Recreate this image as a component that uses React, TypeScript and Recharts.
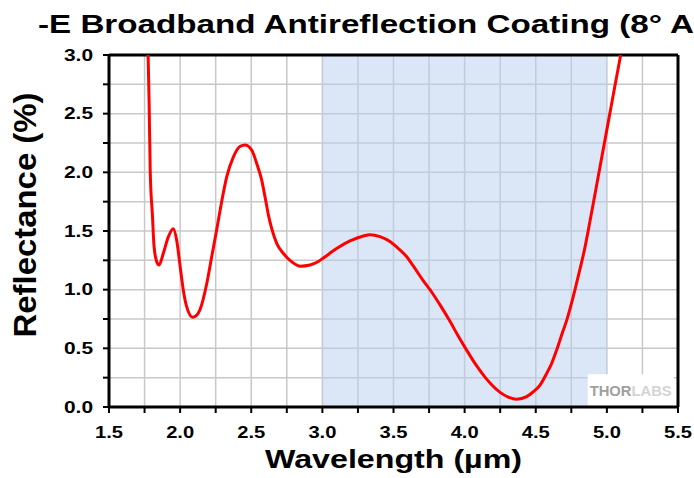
import React from "react";
import {
  LineChart,
  Line,
  XAxis,
  YAxis,
  CartesianGrid,
  ReferenceArea,
  ReferenceLine,
  Label,
} from "recharts";

const TITLE = "-E Broadband Antireflection Coating (8° A";
const X_LABEL = "Wavelength (µm)";
const Y_LABEL = "Reflectance (%)";

// wavelength in µm, reflectance in %
const wavelength = [
  1.775, 1.782, 1.79, 1.806, 1.816, 1.835, 1.852, 1.882, 1.917, 1.952, 1.976,
  2.0, 2.022, 2.046, 2.088, 2.11, 2.14, 2.187, 2.222, 2.257, 2.292, 2.327,
  2.374, 2.42, 2.456, 2.503, 2.538, 2.573, 2.597, 2.62, 2.644, 2.679, 2.725,
  2.772, 2.843, 2.913, 2.971, 3.007, 3.1, 3.194, 3.288, 3.335, 3.405, 3.475,
  3.52, 3.593, 3.64, 3.71, 3.768, 3.827, 3.897, 3.955, 4.014, 4.085, 4.143,
  4.19, 4.249, 4.307, 4.366, 4.436, 4.483, 4.53, 4.577, 4.612, 4.647, 4.682,
  4.718, 4.776, 4.81, 4.846, 4.87, 4.928, 4.975, 5.01, 5.057, 5.097,
];
const reflectance = [
  3.0, 2.6, 2.0, 1.62, 1.38, 1.24, 1.21, 1.31, 1.45, 1.52, 1.42,
  1.2, 1.0, 0.855, 0.765, 0.775, 0.83, 1.05, 1.28, 1.51, 1.75, 1.96,
  2.13, 2.22, 2.233, 2.19, 2.077, 1.935, 1.79, 1.64, 1.52, 1.395, 1.31,
  1.25, 1.2, 1.21, 1.24, 1.27, 1.35, 1.415, 1.458, 1.468, 1.452, 1.41,
  1.366, 1.28, 1.2, 1.075, 0.98, 0.87, 0.73, 0.605, 0.485, 0.35, 0.255,
  0.19, 0.125, 0.085, 0.066, 0.088, 0.13, 0.187, 0.287, 0.372, 0.486, 0.614,
  0.74, 1.0, 1.17, 1.36, 1.51, 1.89, 2.2, 2.43, 2.74, 3.0,
];

const xTicks = [
  1.5, 1.75, 2.0, 2.25, 2.5, 2.75, 3.0, 3.25, 3.5, 3.75, 4.0, 4.25, 4.5, 4.75,
  5.0, 5.25, 5.5,
];
const yTicks = [
  0, 0.25, 0.5, 0.75, 1.0, 1.25, 1.5, 1.75, 2.0, 2.25, 2.5, 2.75, 3.0,
];

// shaded design band
const bandStart = 3.0;
const bandEnd = 5.0;

// logo box
const logoX = [4.865, 5.47];
const logoY = [0, 0.28];

const data = wavelength.map((w, i) => ({ w, r: reflectance[i] }));

const FONT = "'Liberation Sans', Arial, Helvetica, sans-serif";

const isMajor = (v: number) => Math.abs(v * 2 - Math.round(v * 2)) < 1e-6;

function XTick(props: any) {
  const { x, y, payload } = props;
  if (!isMajor(payload.value)) return null;
  return (
    <text
      x={x}
      y={y}
      dy="0.71em"
      textAnchor="middle"
      fontSize={16}
      fontWeight="bold"
      fontFamily={FONT}
      fill="#000"
      textLength={28}
      lengthAdjust="spacingAndGlyphs"
    >
      {payload.value.toFixed(1)}
    </text>
  );
}

function YTick(props: any) {
  const { x, y, payload } = props;
  if (!isMajor(payload.value)) return null;
  return (
    <text
      x={x}
      y={y}
      dy="0.36em"
      textAnchor="end"
      fontSize={16}
      fontWeight="bold"
      fontFamily={FONT}
      fill="#000"
      textLength={29}
      lengthAdjust="spacingAndGlyphs"
    >
      {payload.value.toFixed(1)}
    </text>
  );
}

export default function App() {
  return (
    <div
      style={{
        position: "absolute",
        left: 0,
        top: 0,
        width: 694,
        height: 478,
        background: "#fff",
        overflow: "hidden",
      }}
    >
      <LineChart
        width={694}
        height={478}
        data={data}
        margin={{ top: 55, right: 16, bottom: 0, left: 0 }}
      >
        <CartesianGrid stroke="#c8c8c8" strokeWidth={1.5} />
        <ReferenceArea
          x1={bandStart}
          x2={bandEnd}
          y1={0}
          y2={3}
          fill="#b8cdf0"
          fillOpacity={0.5}
          stroke="none"
        />
        <ReferenceArea
          x1={logoX[0]}
          x2={logoX[1]}
          y1={logoY[0]}
          y2={logoY[1]}
          fill="#fff"
          fillOpacity={1}
          stroke="none"
          label={(p: any) => {
            const vb = p.viewBox;
            return (
              <text
                x={vb.x + vb.width / 2}
                y={vb.y + vb.height / 2}
                dy="0.36em"
                textAnchor="middle"
                fontSize={14}
                fontWeight="bold"
                fontFamily={FONT}
                textLength={82}
                lengthAdjust="spacingAndGlyphs"
              >
                <tspan fill="#a0a0a0">THOR</tspan>
                <tspan fill="#d4d4d4">LABS</tspan>
              </text>
            );
          }}
        />
        <XAxis
          type="number"
          dataKey="w"
          domain={[1.5, 5.5]}
          ticks={xTicks}
          interval={0}
          height={71}
          tick={<XTick />}
          tickSize={6}
          tickMargin={14}
          axisLine={{ stroke: "#000", strokeWidth: 3 }}
          tickLine={{ stroke: "#000", strokeWidth: 2 }}
          allowDataOverflow
        >
          <Label
            content={(p: any) => {
              const vb = p.viewBox;
              return (
                <text
                  x={vb.x + vb.width / 2}
                  y={vb.y + 61}
                  textAnchor="middle"
                  fontSize={26}
                  fontWeight="bold"
                  fontFamily={FONT}
                  fill="#000"
                  textLength={257}
                  lengthAdjust="spacingAndGlyphs"
                >
                  {X_LABEL}
                </text>
              );
            }}
          />
        </XAxis>
        <YAxis
          type="number"
          domain={[0, 3]}
          ticks={yTicks}
          interval={0}
          width={109}
          tick={<YTick />}
          tickSize={6}
          tickMargin={10}
          axisLine={{ stroke: "#000", strokeWidth: 3 }}
          tickLine={{ stroke: "#000", strokeWidth: 2 }}
          allowDataOverflow
        >
          <Label
            content={(p: any) => {
              const vb = p.viewBox;
              const cx = vb.x + 36;
              const cy = vb.y + vb.height / 2 - 16;
              return (
                <text
                  x={cx}
                  y={cy}
                  transform={`rotate(-90 ${cx} ${cy})`}
                  textAnchor="middle"
                  fontSize={31}
                  fontWeight="bold"
                  fontFamily={FONT}
                  fill="#000"
                  textLength={245}
                  lengthAdjust="spacingAndGlyphs"
                >
                  {Y_LABEL}
                </text>
              );
            }}
          />
        </YAxis>
        <ReferenceLine y={3} stroke="#000" strokeWidth={3} />
        <ReferenceLine x={5.5} stroke="#000" strokeWidth={3} />
        <Line
          type="monotone"
          dataKey="r"
          stroke="#ff0000"
          strokeWidth={3}
          dot={false}
          isAnimationActive={false}
        />
      </LineChart>
      <svg
        width={694}
        height={478}
        style={{ position: "absolute", left: 0, top: 0, pointerEvents: "none" }}
      >
        <text
          x={38}
          y={33}
          fontSize={25}
          fontWeight="bold"
          fontFamily={FONT}
          fill="#000"
          textLength={656}
          lengthAdjust="spacingAndGlyphs"
        >
          {TITLE}
        </text>
      </svg>
    </div>
  );
}
